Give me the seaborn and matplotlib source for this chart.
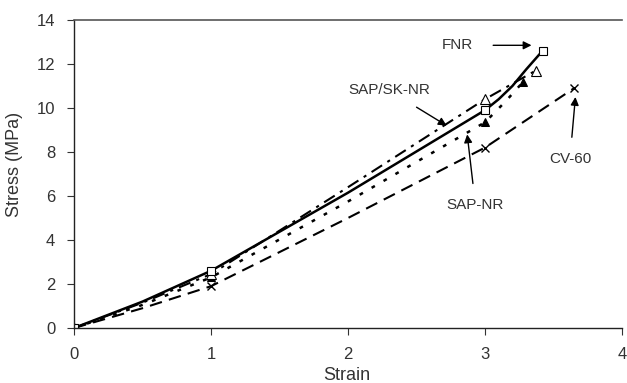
import matplotlib
matplotlib.use("Agg")
import matplotlib.pyplot as plt
import seaborn as sns

sns.set_style("white")
plt.rcParams['font.family'] = ['Liberation Sans', 'DejaVu Sans']

# Data
fnr_strain = [0, 0.5, 1, 2, 3, 3.1, 3.2, 3.3, 3.42]
fnr_stress = [0, 1.2, 2.6, 6.15, 9.9, 10.4, 11.0, 11.75, 12.6]
sapsk_strain = [0, 0.5, 1, 2, 3, 3.37]
sapsk_stress = [0, 1.15, 2.45, 6.4, 10.4, 11.7]
sap_strain = [0, 0.5, 1, 2, 3, 3.15, 3.28]
sap_stress = [0, 1.05, 2.3, 5.75, 9.35, 10.3, 11.2]
cv_strain = [0, 0.5, 1, 2, 3, 3.65]
cv_stress = [0, 0.9, 1.9, 5.0, 8.2, 10.9]

x_ticks = [0, 1, 2, 3, 4]
y_ticks = [0, 2, 4, 6, 8, 10, 12, 14]

fig = plt.figure(figsize=(6.27, 3.83), dpi=100)
ax = fig.add_axes([74/627, 1-328/383, 548/627, 308/383])

series = [
    (cv_strain, cv_stress, dict(linestyle=(0, (6, 3.5)), lw=1.5, marker='x', ms=6, mew=1.0,
                                markevery=[0, 2, 4, 5], mfc='black')),
    (sap_strain, sap_stress, dict(linestyle=(0, (1.5, 4)), lw=1.8, marker='^', ms=6,
                                  markevery=[0, 2, 4, 6], mfc='black')),
    (sapsk_strain, sapsk_stress, dict(linestyle=(0, (6, 3, 1.5, 3)), lw=1.5, marker='^', ms=7,
                                      markevery=[0, 2, 4, 5], mfc='white', mew=0.8)),
    (fnr_strain, fnr_stress, dict(linestyle='-', lw=1.8, marker='s', ms=6,
                                  markevery=[0, 2, 4, 8], mfc='white', mew=0.8)),
]
for xs, ys, kw in series:
    sns.lineplot(x=xs, y=ys, ax=ax, color='black', mec='black', sort=False, **kw)

ax.set_xlim(0, 4)
ax.set_ylim(0, 14)
ax.set_xticks(x_ticks)
ax.set_yticks(y_ticks)
ax.tick_params(axis='both', direction='out', length=5, width=0.8, colors='#333333',
               labelsize=12, labelcolor='#333333', bottom=True, left=True, pad=8.5)
ax.set_xlabel("Strain", fontsize=13, color='#333333')
ax.set_ylabel("Stress (MPa)", fontsize=13, color='#333333')
ax.xaxis.set_label_coords(0.498, -0.125)
ax.yaxis.set_label_coords(-0.093, 0.53)
for s in ['left', 'bottom']:
    ax.spines[s].set_color('#222222')
    ax.spines[s].set_linewidth(1.0)
ax.spines['top'].set_color('#555555')
ax.spines['top'].set_linewidth(1.2)
ax.spines['right'].set_visible(False)

arrow = dict(arrowstyle='-|>', color='black', lw=1.0, mutation_scale=12)
ax.annotate("FNR", xy=(3.38, 12.85), xytext=(2.80, 12.85), fontsize=11, color='#333333',
            ha='center', va='center', arrowprops=dict(arrow, shrinkA=12, shrinkB=4))
ax.annotate("SAP/SK-NR", xy=(2.72, 9.2), xytext=(2.30, 10.8), fontsize=11, color='#333333',
            ha='center', va='center', arrowprops=dict(arrow, shrinkA=9, shrinkB=0))
ax.annotate("SAP-NR", xy=(2.87, 8.8), xytext=(2.93, 5.6), fontsize=11, color='#333333',
            ha='center', va='center', arrowprops=dict(arrow, shrinkA=8, shrinkB=0))
ax.annotate("CV-60", xy=(3.66, 10.5), xytext=(3.62, 7.7), fontsize=11, color='#333333',
            ha='center', va='center', arrowprops=dict(arrow, shrinkA=8, shrinkB=0))

fig.savefig("out.png", dpi=100)
